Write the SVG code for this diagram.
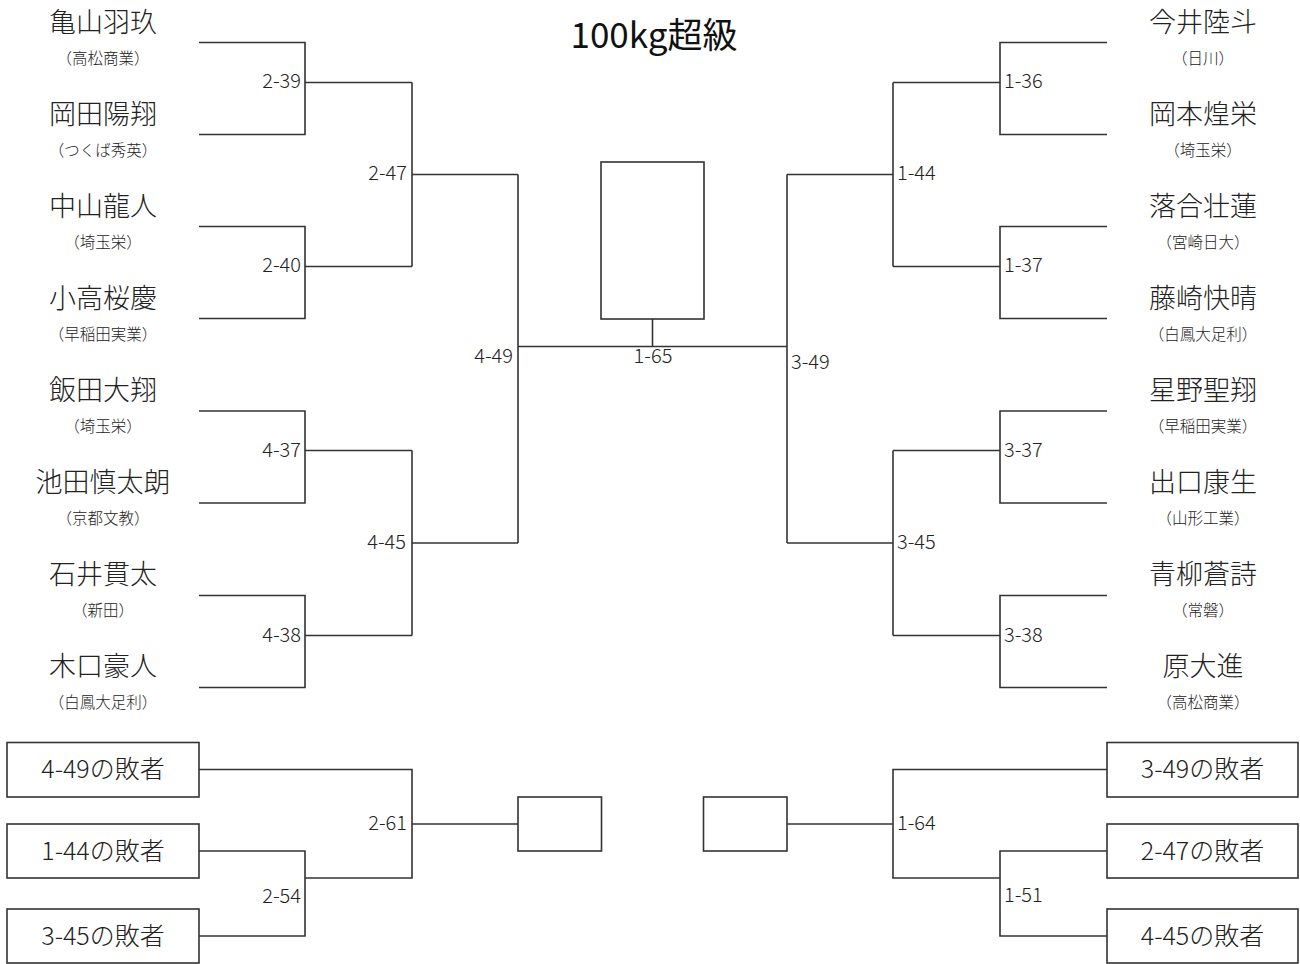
<svg xmlns="http://www.w3.org/2000/svg" width="1300" height="964" viewBox="0 0 1300 964">
<style>
text{font-family:"Noto Sans CJK JP","Noto Sans",sans-serif;fill:#222;font-weight:300}
.name{font-size:27px;text-anchor:middle}
.sch{font-size:15.5px;text-anchor:middle}
.lbl{font-size:20px}
.le{text-anchor:end}
.ls{text-anchor:start}
.lm{text-anchor:middle}
.box{font-size:25px;text-anchor:middle}
.title{font-size:35px;text-anchor:middle;font-weight:400;fill:#111}
.ln{fill:none;stroke:#333;stroke-width:1.6}
.bx{fill:#fff;stroke:#333;stroke-width:1.6}
</style>
<rect width="1300" height="964" fill="#fff"/>
<text class="title" x="654" y="48">100kg超級</text>

<g id="connectors" class="ln">
<path d="M199 42.5H305V134.5H199"/>
<path d="M305 82.5H412"/>
<path d="M199 226.5H305V318.5H199"/>
<path d="M305 266.5H412"/>
<path d="M412 82.5V266.5"/>
<path d="M412 174.5H518"/>
<path d="M199 411H305V503H199"/>
<path d="M305 450.5H412"/>
<path d="M199 595.5H305V687.5H199"/>
<path d="M305 635.5H412"/>
<path d="M412 450.5V635.5"/>
<path d="M412 543H518"/>
<path d="M518 174.5V543"/>
<path d="M518 346.5H787"/>
<path d="M652.5 319V346.5"/>
<path d="M1107 42.5H1000V134.5H1107"/>
<path d="M1000 82.5H893"/>
<path d="M1107 226.5H1000V318.5H1107"/>
<path d="M1000 266.5H893"/>
<path d="M893 82.5V266.5"/>
<path d="M893 174.5H787"/>
<path d="M1107 411H1000V503H1107"/>
<path d="M1000 450.5H893"/>
<path d="M1107 595.5H1000V687.5H1107"/>
<path d="M1000 635.5H893"/>
<path d="M893 450.5V635.5"/>
<path d="M893 543H787"/>
<path d="M787 174.5V543"/>
<path d="M199 769.5H412V878H305"/>
<path d="M199 851H305V936H199"/>
<path d="M412 824H518"/>
<path d="M1107 769.5H893V878H1000"/>
<path d="M1107 851H1000V936H1107"/>
<path d="M893 824H787"/>
</g>

<g id="champion"><rect class="bx" x="601" y="162" width="103" height="157"/></g>
<g id="third-left"><rect class="bx" x="518" y="797" width="83.5" height="54"/></g>
<g id="third-right"><rect class="bx" x="703.5" y="797" width="83.5" height="54"/></g>

<g id="labels" class="lbl">
<text class="le" x="301" y="88">2-39</text>
<text class="le" x="301" y="272">2-40</text>
<text class="le" x="407" y="180">2-47</text>
<text class="le" x="301" y="457">4-37</text>
<text class="le" x="301" y="642">4-38</text>
<text class="le" x="406" y="549">4-45</text>
<text class="le" x="513" y="363">4-49</text>
<text class="lm" x="653" y="363">1-65</text>
<text class="ls" x="791" y="369">3-49</text>
<text class="ls" x="1004" y="88">1-36</text>
<text class="ls" x="1004" y="272">1-37</text>
<text class="ls" x="897" y="180">1-44</text>
<text class="ls" x="1004" y="457">3-37</text>
<text class="ls" x="1004" y="642">3-38</text>
<text class="ls" x="897" y="549">3-45</text>
<text class="le" x="301" y="903">2-54</text>
<text class="le" x="407" y="830">2-61</text>
<text class="ls" x="897" y="830">1-64</text>
<text class="ls" x="1004" y="902">1-51</text>
</g>

<g id="p-L1"><text class="name" x="103" y="32">亀山羽玖</text><text class="sch" x="103" y="64">（高松商業）</text></g>
<g id="p-L2"><text class="name" x="103" y="124">岡田陽翔</text><text class="sch" x="103" y="156">（つくば秀英）</text></g>
<g id="p-L3"><text class="name" x="103" y="216">中山龍人</text><text class="sch" x="103" y="248">（埼玉栄）</text></g>
<g id="p-L4"><text class="name" x="103" y="308">小高桜慶</text><text class="sch" x="103" y="340">（早稲田実業）</text></g>
<g id="p-L5"><text class="name" x="103" y="400">飯田大翔</text><text class="sch" x="103" y="432">（埼玉栄）</text></g>
<g id="p-L6"><text class="name" x="103" y="492">池田慎太朗</text><text class="sch" x="103" y="524">（京都文教）</text></g>
<g id="p-L7"><text class="name" x="103" y="584">石井貫太</text><text class="sch" x="103" y="616">（新田）</text></g>
<g id="p-L8"><text class="name" x="103" y="676">木口豪人</text><text class="sch" x="103" y="708">（白鳳大足利）</text></g>

<g id="p-R1"><text class="name" x="1203" y="32">今井陸斗</text><text class="sch" x="1203" y="64">（日川）</text></g>
<g id="p-R2"><text class="name" x="1203" y="124">岡本煌栄</text><text class="sch" x="1203" y="156">（埼玉栄）</text></g>
<g id="p-R3"><text class="name" x="1203" y="216">落合壮蓮</text><text class="sch" x="1203" y="248">（宮崎日大）</text></g>
<g id="p-R4"><text class="name" x="1203" y="308">藤崎快晴</text><text class="sch" x="1203" y="340">（白鳳大足利）</text></g>
<g id="p-R5"><text class="name" x="1203" y="400">星野聖翔</text><text class="sch" x="1203" y="432">（早稲田実業）</text></g>
<g id="p-R6"><text class="name" x="1203" y="492">出口康生</text><text class="sch" x="1203" y="524">（山形工業）</text></g>
<g id="p-R7"><text class="name" x="1203" y="584">青柳蒼詩</text><text class="sch" x="1203" y="616">（常磐）</text></g>
<g id="p-R8"><text class="name" x="1203" y="676">原大進</text><text class="sch" x="1203" y="708">（高松商業）</text></g>

<g id="r-L1"><rect class="bx" x="7" y="742.5" width="192" height="54.5"/><text class="box" x="103" y="778">4-49の敗者</text></g>
<g id="r-L2"><rect class="bx" x="7" y="824" width="192" height="54"/><text class="box" x="103" y="860">1-44の敗者</text></g>
<g id="r-L3"><rect class="bx" x="7" y="909" width="192" height="54"/><text class="box" x="103" y="945">3-45の敗者</text></g>
<g id="r-R1"><rect class="bx" x="1107" y="742.5" width="191" height="54.5"/><text class="box" x="1202.5" y="778">3-49の敗者</text></g>
<g id="r-R2"><rect class="bx" x="1107" y="824" width="191" height="54"/><text class="box" x="1202.5" y="860">2-47の敗者</text></g>
<g id="r-R3"><rect class="bx" x="1107" y="909" width="191" height="54"/><text class="box" x="1202.5" y="945">4-45の敗者</text></g>
</svg>
